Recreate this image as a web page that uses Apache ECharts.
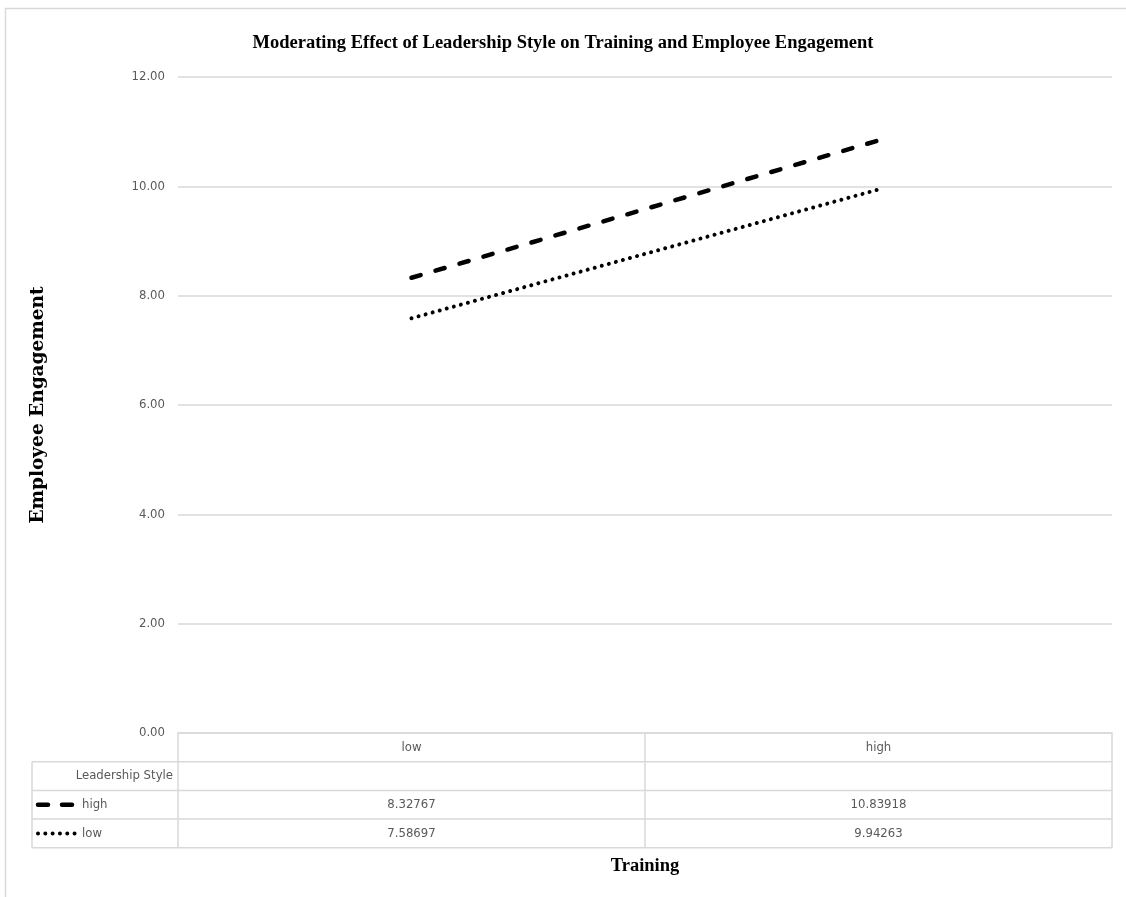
<!DOCTYPE html>
<html>
<head>
<meta charset="utf-8">
<script src="https://cdn.jsdelivr.net/npm/echarts@6/dist/echarts.min.js"></script>
<style>
html,body{margin:0;padding:0;background:#fff;}
#chart{width:1126px;height:897px;}
</style>
</head>
<body>
<div id="chart"></div>
<script>
const titleText = 'Moderating Effect of Leadership Style on Training and Employee Engagement';
const categories = ['low', 'high'];
const seriesNames = ['high', 'low'];
const highValues = [8.32767, 10.83918];
const lowValues = [7.58697, 9.94263];
const yTicks = [0, 2, 4, 6, 8, 10, 12];
const legendTitle = 'Leadership Style';
const xTitle = 'Training';
const yTitle = 'Employee Engagement';

const labelFont = '"Liberation Sans Narrow", "DejaVu Sans Condensed", "Roboto Condensed", "Liberation Sans", sans-serif';
const gray = '#595959';
const lineGray = '#d9d9d9';

const chart = echarts.init(document.getElementById('chart'), null, {renderer: 'canvas'});

const option = {
  animation: false,
  backgroundColor: '#fff',
  title: {
    text: titleText,
    left: 'center',
    top: 29,
    textStyle: {fontFamily: '"Liberation Serif", serif', fontWeight: 'bold', fontSize: 18.5, color: '#000'}
  },
  grid: {left: 178, right: 14, top: 77, bottom: 164},
  xAxis: {
    type: 'category',
    data: categories,
    boundaryGap: true,
    axisLine: {show: true, lineStyle: {color: lineGray, width: 1.5}},
    axisTick: {show: true, length: 115, alignWithLabel: false, lineStyle: {color: lineGray, width: 1.5}},
    axisLabel: {margin: 8, fontFamily: labelFont, fontSize: 13, color: gray},
    name: xTitle,
    nameLocation: 'middle',
    nameGap: 124,
    nameTextStyle: {fontFamily: '"Liberation Serif", serif', fontWeight: 'bold', fontSize: 18.5, color: '#000'},
    splitLine: {show: false}
  },
  yAxis: {
    type: 'value',
    min: 0, max: 12, interval: 2,
    axisLine: {show: false},
    axisTick: {show: false},
    axisLabel: {margin: 13, fontFamily: labelFont, fontSize: 13, color: gray,
      formatter: v => yTicks.indexOf(v) >= 0 ? v.toFixed(2) : ''},
    splitLine: {lineStyle: {color: lineGray, width: 1.5}},
    name: yTitle,
    nameLocation: 'middle',
    nameGap: 130,
    nameRotate: 90,
    nameTextStyle: {fontFamily: '"DejaVu Serif", serif', fontWeight: 'bold', fontSize: 18.5, color: '#000'}
  },
  series: [
    {
      name: seriesNames[0], type: 'line', data: highValues, symbol: 'none',
      lineStyle: {color: '#000', width: 4.5, type: [9.5, 15.5], cap: 'round'}
    },
    {
      name: seriesNames[1], type: 'line', data: lowValues, symbol: 'none',
      lineStyle: {color: '#000', width: 4, type: [0.01, 7.3], cap: 'round'}
    }
  ]
};
chart.setOption(option);

// Build data table using axis pixel positions
const gridRect = chart.getModel().getComponent('grid', 0).coordinateSystem.getRect();
const left = gridRect.x, right = gridRect.x + gridRect.width, top0 = gridRect.y + gridRect.height;
const rowH = 28.7;
const tableLeft = 32;
const rows = [top0, top0 + rowH, top0 + 2 * rowH, top0 + 3 * rowH, top0 + 4 * rowH];
const g = [];
const ls = {stroke: lineGray, lineWidth: 1.5};
g.push({type: 'rect', shape: {x: 5.5, y: 8.5, width: 1130, height: 900}, style: {fill: null, stroke: lineGray, lineWidth: 1.5}, silent: true, z: 0});
for (let i = 1; i < rows.length; i++) {
  g.push({type: 'line', shape: {x1: tableLeft, y1: rows[i], x2: right, y2: rows[i]}, style: ls, silent: true});
}
g.push({type: 'line', shape: {x1: tableLeft, y1: rows[1], x2: tableLeft, y2: rows[4]}, style: ls, silent: true});
const txt = (x, y, t, align) => ({type: 'text', x: x, y: y, style: {text: t, align: align, verticalAlign: 'middle', font: '13px ' + labelFont, fill: gray}, silent: true});
g.push(txt(left - 5, (rows[1] + rows[2]) / 2, legendTitle, 'right'));
const tableSeries = [highValues, lowValues];
for (let s = 0; s < 2; s++) {
  const cy = (rows[2 + s] + rows[3 + s]) / 2;
  g.push(txt(82, cy, seriesNames[s], 'left'));
  for (let c = 0; c < categories.length; c++) {
    const px = chart.convertToPixel({xAxisIndex: 0}, categories[c]);
    g.push(txt(px, cy, String(tableSeries[s][c]), 'center'));
  }
}
// legend keys
const cyH = (rows[2] + rows[3]) / 2, cyL = (rows[3] + rows[4]) / 2;
g.push({type: 'line', shape: {x1: 38, y1: cyH, x2: 76, y2: cyH}, style: {stroke: '#000', lineWidth: 4.5, lineDash: [10, 14], lineCap: 'round'}, silent: true});
g.push({type: 'line', shape: {x1: 38, y1: cyL, x2: 76, y2: cyL}, style: {stroke: '#000', lineWidth: 4, lineDash: [0.01, 7.3], lineCap: 'round'}, silent: true});
chart.setOption({graphic: g});
</script>
</body>
</html>
